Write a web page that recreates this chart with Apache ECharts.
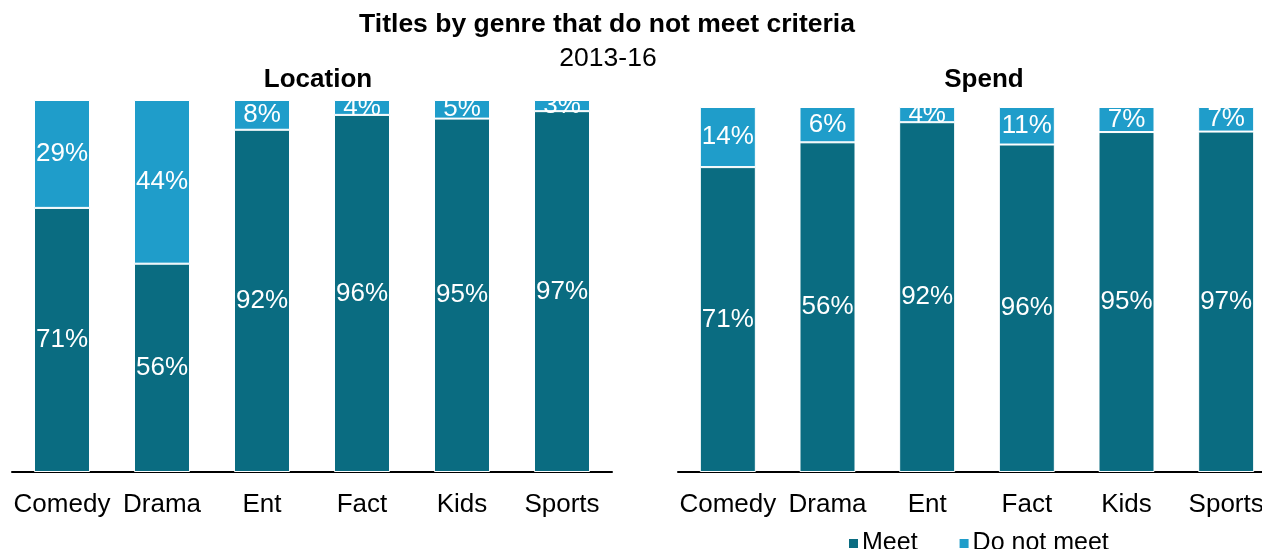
<!DOCTYPE html>
<html>
<head>
<meta charset="utf-8">
<script src="https://cdn.jsdelivr.net/npm/echarts@6/dist/echarts.min.js"></script>
<style>
  html, body { margin: 0; padding: 0; background: #fff; }
  #chart { width: 1262px; height: 549px; }
</style>
</head>
<body>
<div id="chart"></div>
<script>
// Genres shown on both panels
const genres = ['Comedy', 'Drama', 'Ent', 'Fact', 'Kids', 'Sports'];

// Location criteria (percent of titles)
const locationMeet = [71, 56, 92, 96, 95, 97];
const locationNotMeet = [29, 44, 8, 4, 5, 3];

// Spend criteria (labelled values; bars are drawn as shares of each pair)
const spendMeet = [71, 56, 92, 96, 95, 97];
const spendNotMeet = [14, 6, 4, 11, 7, 7];

const MEET_COLOR = '#0a6c81';
const NOT_COLOR = '#1f9dca';
const FONT = '"Liberation Sans", Arial, sans-serif';

// Build stacked data: value is the share of the bar, raw is the labelled figure
function shares(part, other) {
  return part.map((v, i) => ({ value: v / (v + other[i]) * 100, raw: v }));
}

const labelStyle = {
  show: true,
  position: 'inside',
  color: '#fff',
  fontSize: 26,
  fontFamily: FONT,
  formatter: p => p.data.raw + '%'
};

function barSeries(name, data, color, axisIndex) {
  return {
    name: name,
    type: 'bar',
    stack: 'panel' + axisIndex,
    xAxisIndex: axisIndex,
    yAxisIndex: axisIndex,
    barWidth: 56,
    data: data,
    itemStyle: { color: color, borderColor: '#fff', borderWidth: 1 },
    label: labelStyle,
    emphasis: { disabled: true }
  };
}

function catAxis(gridIndex) {
  return {
    type: 'category',
    gridIndex: gridIndex,
    data: genres,
    axisTick: { show: false },
    axisLine: { show: true, lineStyle: { color: '#000', width: 2 } },
    axisLabel: { color: '#000', fontSize: 26, fontFamily: FONT, margin: 20, interval: 0 }
  };
}

function valAxis(gridIndex) {
  return { type: 'value', gridIndex: gridIndex, min: 0, max: 100, show: false };
}

const chart = echarts.init(document.getElementById('chart'), null, { renderer: 'canvas' });

chart.setOption({
  animation: false,
  backgroundColor: '#fff',
  title: [
    { text: 'Titles by genre that do not meet criteria', left: 602, top: 6, textAlign: 'center',
      textStyle: { fontSize: 26.5, fontWeight: 'bold', color: '#000', fontFamily: FONT } },
    { text: '2013-16', left: 603, top: 40, textAlign: 'center',
      textStyle: { fontSize: 26.5, fontWeight: 'normal', color: '#000', fontFamily: FONT } },
    { text: 'Location', left: 313, top: 62, textAlign: 'center',
      textStyle: { fontSize: 26, fontWeight: 'bold', color: '#000', fontFamily: FONT } },
    { text: 'Spend', left: 979, top: 62, textAlign: 'center',
      textStyle: { fontSize: 26, fontWeight: 'bold', color: '#000', fontFamily: FONT } }
  ],
  legend: {
    data: ['Meet', 'Do not meet'],
    left: 842,
    top: 526,
    itemWidth: 11,
    itemHeight: 11,
    itemGap: 40,
    icon: 'rect',
    textStyle: { fontSize: 25, color: '#000', fontFamily: FONT, padding: [0, 0, 0, -2] }
  },
  grid: [
    { left: 12, width: 600, top: 100, height: 372, outerBoundsMode: 'none' },
    { left: 678, width: 598, top: 107, height: 365, outerBoundsMode: 'none' }
  ],
  xAxis: [catAxis(0), catAxis(1)],
  yAxis: [valAxis(0), valAxis(1)],
  series: [
    barSeries('Meet', shares(locationMeet, locationNotMeet), MEET_COLOR, 0),
    barSeries('Do not meet', shares(locationNotMeet, locationMeet), NOT_COLOR, 0),
    barSeries('Meet', shares(spendMeet, spendNotMeet), MEET_COLOR, 1),
    barSeries('Do not meet', shares(spendNotMeet, spendMeet), NOT_COLOR, 1)
  ]
});
</script>
</body>
</html>
